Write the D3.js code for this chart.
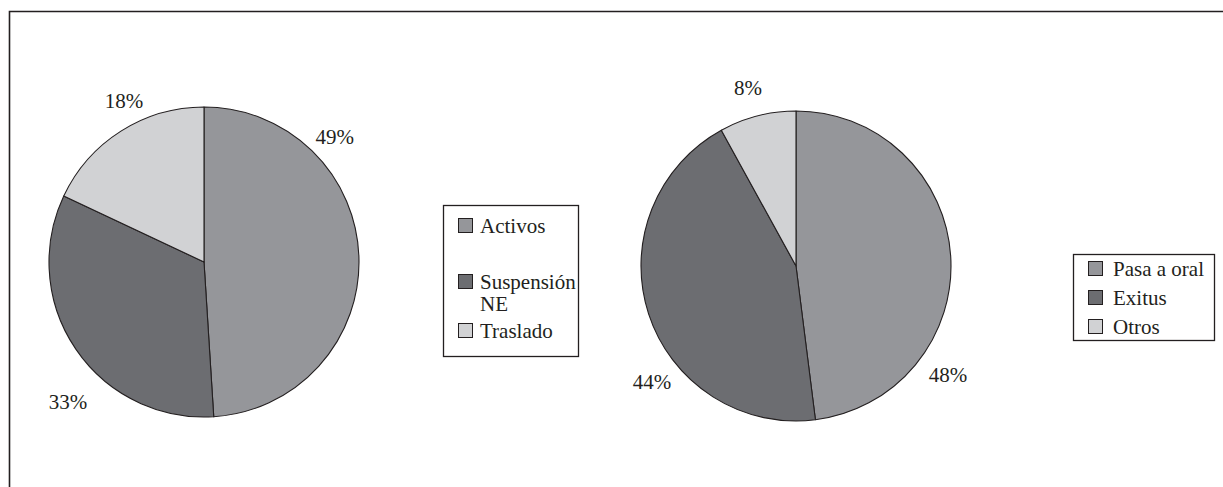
<!DOCTYPE html>
<html>
<head>
<meta charset="utf-8">
<script src="https://cdn.jsdelivr.net/npm/d3@7"></script>
<style>
  html, body { margin: 0; padding: 0; background: #fff; }
  svg { display: block; }
  text { font-family: "Liberation Serif", "Times New Roman", serif; fill: #231f20; }
</style>
</head>
<body>
<div id="graph"></div>
<script>
const width = 1223,
  height = 487;

// data
const leftCategories = ["Activos", "Suspensión NE", "Traslado"];
const leftValues = [49, 33, 18];
const rightCategories = ["Pasa a oral", "Exitus", "Otros"];
const rightValues = [48, 44, 8];

const fills = ["#95969a", "#6c6d71", "#d1d2d4"];
const ink = "#231f20";

const svg = d3.select("#graph").append("svg")
  .attr("width", width)
  .attr("height", height);

// outer frame (only top + left visible in the crop)
svg.append("path")
  .attr("d", "M9.5," + height + "V11.5H" + width)
  .attr("fill", "none")
  .attr("stroke", ink)
  .attr("stroke-width", 1.6);

const radius = 155;
const pie = d3.pie().sort(null).startAngle(0).endAngle(2 * Math.PI);
const arc = d3.arc().innerRadius(0).outerRadius(radius);

function drawPie(cx, cy, values, labelAngles, labelRadii) {
  const g = svg.append("g").attr("transform", `translate(${cx},${cy})`);
  const arcs = pie(values);

  g.selectAll("path")
    .data(arcs)
    .join("path")
    .attr("d", arc)
    .attr("fill", (d, i) => fills[i])
    .attr("stroke", ink)
    .attr("stroke-width", 1.1)
    .attr("stroke-linejoin", "round");

  g.selectAll("text")
    .data(arcs)
    .join("text")
    .attr("x", (d, i) => labelRadii[i] * Math.sin(labelAngles[i] * Math.PI / 180))
    .attr("y", (d, i) => -labelRadii[i] * Math.cos(labelAngles[i] * Math.PI / 180))
    .attr("dy", 7)
    .attr("text-anchor", "middle")
    .attr("font-size", 21)
    .text(d => Math.round(d.data) + "%");
}

function drawLegend(box, categories, baselines, maxWidth) {
  const g = svg.append("g");
  g.append("rect")
    .attr("x", box.x).attr("y", box.y)
    .attr("width", box.w).attr("height", box.h)
    .attr("fill", "#fff")
    .attr("stroke", ink)
    .attr("stroke-width", 1.3);

  categories.forEach((c, i) => {
    const base = baselines[i];
    g.append("rect")
      .attr("x", box.sx + 0.5).attr("y", base - 14.5)
      .attr("width", 14).attr("height", 14)
      .attr("fill", fills[i])
      .attr("stroke", ink)
      .attr("stroke-width", 1);

    const t = g.append("text")
      .attr("x", box.tx)
      .attr("y", base)
      .attr("font-size", 21);

    // wrap words when the label is too wide for the box
    const words = c.split(" ");
    let line = [], tspan = t.append("tspan").attr("x", box.tx).attr("y", base);
    let lineNo = 0;
    words.forEach(w => {
      line.push(w);
      tspan.text(line.join(" "));
      if (maxWidth && tspan.node().getComputedTextLength() > maxWidth && line.length > 1) {
        line.pop();
        tspan.text(line.join(" "));
        line = [w];
        lineNo++;
        tspan = t.append("tspan").attr("x", box.tx).attr("y", base + lineNo * 22).text(w);
      }
    });
  });
}

drawPie(204, 262, leftValues, [46.3, 224.2, 333.6], [181, 195, 180]);
drawPie(796, 266, rightValues, [125.6, 231.1, 344.9], [187, 185, 184]);

drawLegend({ x: 443.5, y: 205.5, w: 135, h: 151, sx: 458, tx: 480 },
  leftCategories, [233, 289, 338], 97);
drawLegend({ x: 1073.5, y: 254.5, w: 141, h: 86, sx: 1088, tx: 1113 },
  rightCategories, [276, 305, 334], null);
</script>
</body>
</html>
